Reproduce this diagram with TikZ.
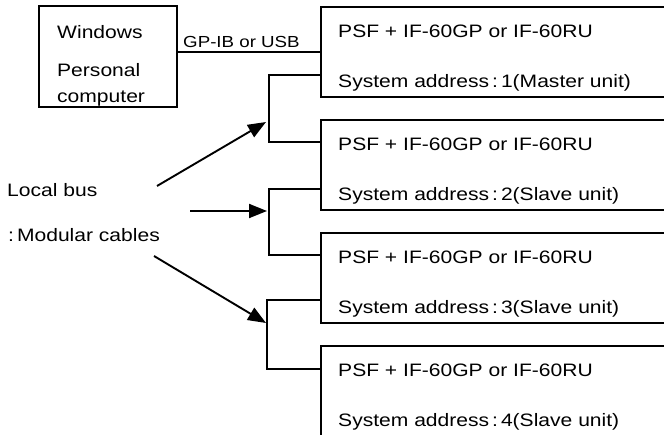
\documentclass[tikz,border=0pt]{standalone}
\usepackage{fontspec}
\setmainfont[FakeStretch=1.17]{Liberation Sans}
\usetikzlibrary{arrows.meta}
\begin{document}
\begin{tikzpicture}[x=1pt,y=-1pt,
  box/.style={draw, line width=1.9pt, inner sep=0pt, outer sep=0pt, anchor=north west},
  txt/.style={inner sep=0pt, anchor=base west, font=\fontsize{18}{20}\selectfont},
  smalltxt/.style={inner sep=0pt, anchor=base west, font=\fontsize{16}{18}\selectfont},
  wire/.style={line width=1.9pt},
  arr/.style={line width=1.9pt, -{Triangle[length=18pt,width=14pt]}}
]
\useasboundingbox (0,0) rectangle (664,435);
\clip (0,0) rectangle (664,435);
% PC box
\node[box, minimum width=138pt, minimum height=101pt] (pc) at (39,6) {};
\node[txt] (w) at (57,39) {Windows};
\node[txt] (p) at (57,77) {Personal};
\node[txt] (c) at (57,103) {computer};
% unit boxes
\node[box, minimum width=380pt, minimum height=90pt] (u1) at (321,7) {};
\node[box, minimum width=380pt, minimum height=90pt] (u2) at (321,120) {};
\node[box, minimum width=380pt, minimum height=90pt] (u3) at (321,233) {};
\node[box, minimum width=380pt, minimum height=110pt] (u4) at (321,346) {};
\node[txt] (t1a) at (338,38) {PSF + IF-60GP or IF-60RU};
\node[txt] (t1b) at (338,88) {System address\kern3pt:\kern3pt 1(Master unit)};
\node[txt] (t2a) at (338,151) {PSF + IF-60GP or IF-60RU};
\node[txt] (t2b) at (338,201) {System address\kern3pt:\kern3pt 2(Slave unit)};
\node[txt] (t3a) at (338,264) {PSF + IF-60GP or IF-60RU};
\node[txt] (t3b) at (338,314) {System address\kern3pt:\kern3pt 3(Slave unit)};
\node[txt] (t4a) at (338,377) {PSF + IF-60GP or IF-60RU};
\node[txt] (t4b) at (338,427) {System address\kern3pt:\kern3pt 4(Slave unit)};
% GP-IB link
\node[smalltxt] (gp) at (183,48) {GP-IB or USB};
\coordinate (g) at (0,52);
\draw[wire] (pc.east |- g) -- (u1.west |- g);
% local bus
\coordinate (b1) at (269,75);  \coordinate (b2) at (269,142);
\coordinate (b3) at (269,189); \coordinate (b4) at (269,255);
\coordinate (b5) at (267,300); \coordinate (b6) at (267,369);
\draw[wire] (u1.west |- b1) -- (b1) -- (b2) -- (u2.west |- b2);
\draw[wire] (u2.west |- b3) -- (b3) -- (b4) -- (u3.west |- b4);
\draw[wire] (u3.west |- b5) -- (b5) -- (b6) -- (u4.west |- b6);
% labels
\node[txt] (lb) at (7,197) {Local bus};
\node[txt] (mc) at (8,242) {:\kern3pt Modular cables};
% arrows
\coordinate (a1s) at (157,186); \coordinate (a1e) at (266,122);
\coordinate (a2s) at (190,211); \coordinate (a2e) at (267,211);
\coordinate (a3s) at (154,256); \coordinate (a3e) at (266,323);
\draw[arr] (a1s) -- (a1e);
\draw[arr] (a2s) -- (a2e);
\draw[arr] (a3s) -- (a3e);
\end{tikzpicture}
\end{document}
